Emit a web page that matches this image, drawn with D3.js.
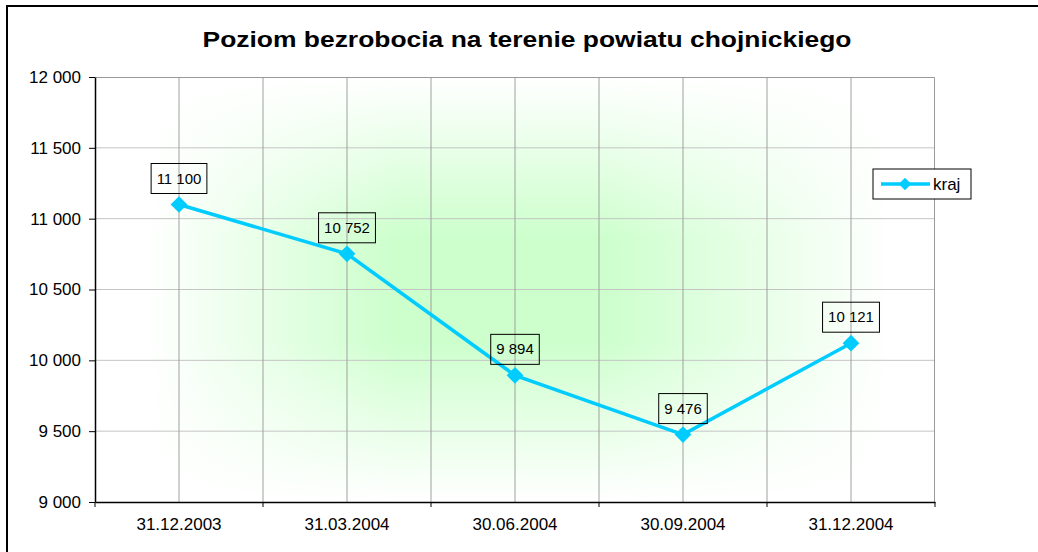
<!DOCTYPE html>
<html lang="pl">
<head>
  <meta charset="utf-8">
  <title>Poziom bezrobocia</title>
  <script src="https://d3js.org/d3.v7.min.js"></script>
  <style>
    body { margin: 0; background: #fff; }
    text { font-family: "Liberation Sans", Arial, sans-serif; }
  </style>
</head>
<body>
  <div id="chart"></div>
  <script>
    // dane
    var categories = ["31.12.2003", "31.03.2004", "30.06.2004", "30.09.2004", "31.12.2004"];
    var values = [11100, 10752, 9894, 9476, 10121];
    var yTicks = [9000, 9500, 10000, 10500, 11000, 11500, 12000];
    var seriesName = "kraj";
    var title = "Poziom bezrobocia na terenie powiatu chojnickiego";

    var W = 1038, H = 552;
    var margin = { top: 77, right: 103, bottom: 50, left: 95 },
      width = W - margin.left - margin.right,
      height = H - margin.top - margin.bottom;

    var fmt = d3.formatLocale({ decimal: ",", thousands: " ", grouping: [3], currency: ["", ""] }).format(",d");
    var lineColor = "#00ccff";

    var svg = d3.select("#chart").append("svg")
      .attr("width", W).attr("height", H);

    // ramka
    svg.append("rect")
      .attr("x", 7).attr("y", 6).attr("width", 1100).attr("height", 700)
      .attr("fill", "none").attr("stroke", "#000").attr("stroke-width", 2);

    svg.append("text")
      .attr("x", 527).attr("y", 47)
      .attr("text-anchor", "middle")
      .attr("font-size", 22).attr("font-weight", "bold")
      .attr("textLength", 649).attr("lengthAdjust", "spacingAndGlyphs")
      .text(title);

    var defs = svg.append("defs");
    var gx = defs.append("linearGradient").attr("id", "gx").attr("x1", 0).attr("x2", 1).attr("y1", 0).attr("y2", 0);
    [[0, "#000"], [0.06, "#000"], [0.36, "#fff"], [0.6, "#fff"], [0.95, "#000"]].forEach(function (s) {
      gx.append("stop").attr("offset", s[0]).attr("stop-color", s[1]);
    });
    var gy = defs.append("linearGradient").attr("id", "gy").attr("x1", 0).attr("x2", 0).attr("y1", 0).attr("y2", 1);
    [[0, "#000"], [0.38, "#fff"], [0.62, "#fff"], [1, "#000"]].forEach(function (s) {
      gy.append("stop").attr("offset", s[0]).attr("stop-color", s[1]);
    });
    defs.append("mask").attr("id", "mx").attr("maskContentUnits", "objectBoundingBox")
      .append("rect").attr("width", 1).attr("height", 1).attr("fill", "url(#gx)");
    defs.append("mask").attr("id", "my").attr("maskContentUnits", "objectBoundingBox")
      .append("rect").attr("width", 1).attr("height", 1).attr("fill", "url(#gy)");

    var g = svg.append("g").attr("transform", "translate(" + margin.left + "," + margin.top + ")");

    // tło z gradientem
    g.append("rect").attr("width", width).attr("height", height).attr("fill", "#fff");
    g.append("g").attr("mask", "url(#my)")
      .append("rect").attr("width", width).attr("height", height)
      .attr("fill", "#ccffcc").attr("mask", "url(#mx)");

    var x = d3.scaleBand().domain(categories).range([0, width]).padding(0);
    var y = d3.scaleLinear().domain([yTicks[0], yTicks[yTicks.length - 1]]).range([height, 0]);
    var cx = function (c) { return x(c) + x.bandwidth() / 2; };

    // siatka
    g.append("g").selectAll("line").data(yTicks.slice(1, -1)).enter().append("line")
      .attr("x1", 0).attr("x2", width)
      .attr("y1", function (d) { return y(d); }).attr("y2", function (d) { return y(d); })
      .attr("stroke", "#c4c4c4");
    var vx = categories.slice(1).map(function (c) { return x(c); }).concat(categories.map(cx));
    g.append("g").selectAll("line").data(vx).enter().append("line")
      .attr("x1", function (d) { return d; }).attr("x2", function (d) { return d; })
      .attr("y1", 0).attr("y2", height)
      .attr("stroke", "#a0a0a0");
    g.append("path")
      .attr("d", "M0,0.5H" + (width - 0.5) + "V" + height)
      .attr("fill", "none").attr("stroke", "#999");

    // osie
    var yAxis = g.append("g")
      .call(d3.axisLeft(y).tickValues(yTicks).tickFormat(fmt).tickSize(6).tickPadding(8).tickSizeOuter(0));
    var xAxis = g.append("g").attr("transform", "translate(0," + height + ")")
      .call(d3.axisBottom(x).tickSize(0).tickPadding(16));
    [yAxis, xAxis].forEach(function (a) {
      a.select(".domain").attr("stroke", "#000").attr("stroke-width", 1.5);
      a.selectAll("text").attr("font-size", 17).attr("fill", "#000").attr("font-family", "Liberation Sans, Arial, sans-serif");
      a.selectAll(".tick line").attr("stroke", "#000");
    });
    g.append("g").selectAll("line").data(categories.map(function (c) { return x(c); }).concat([width])).enter().append("line")
      .attr("x1", function (d) { return d; }).attr("x2", function (d) { return d; })
      .attr("y1", height).attr("y2", height + 5)
      .attr("stroke", "#000");

    // seria
    var pts = categories.map(function (c, i) { return { c: c, v: values[i] }; });
    g.append("path").datum(pts)
      .attr("fill", "none").attr("stroke", lineColor).attr("stroke-width", 3.5)
      .attr("d", d3.line().x(function (d) { return cx(d.c); }).y(function (d) { return y(d.v); }));

    var diamond = d3.symbol(d3.symbolSquare).size(140);
    g.append("g").selectAll("path").data(pts).enter().append("path")
      .attr("d", diamond)
      .attr("fill", lineColor)
      .attr("transform", function (d) { return "translate(" + cx(d.c) + "," + y(d.v) + ") rotate(45)"; });

    // etykiety danych
    var labels = g.append("g").selectAll("g").data(pts).enter().append("g")
      .attr("transform", function (d) { return "translate(" + cx(d.c) + "," + (y(d.v) - 11) + ")"; });
    labels.append("text")
      .attr("text-anchor", "middle").attr("y", -10)
      .attr("font-size", 15).attr("fill", "#000")
      .text(function (d) { return fmt(d.v); });
    labels.each(function () {
      var t = d3.select(this).select("text");
      var w = t.node().getComputedTextLength() + 11;
      d3.select(this).insert("rect", "text")
        .attr("x", -w / 2).attr("y", -30).attr("width", w).attr("height", 30)
        .attr("fill", "none").attr("stroke", "#000");
    });

    // legenda
    var leg = svg.append("g").attr("transform", "translate(873,169)");
    leg.append("rect").attr("width", 98).attr("height", 30)
      .attr("fill", "#fff").attr("stroke", "#000");
    leg.append("line").attr("x1", 8).attr("x2", 57).attr("y1", 15).attr("y2", 15)
      .attr("stroke", lineColor).attr("stroke-width", 3.5);
    leg.append("path").attr("d", d3.symbol(d3.symbolSquare).size(80))
      .attr("fill", lineColor).attr("transform", "translate(32,15) rotate(45)");
    leg.append("text").attr("x", 60).attr("y", 21).attr("font-size", 17).text(seriesName);
  </script>
</body>
</html>
